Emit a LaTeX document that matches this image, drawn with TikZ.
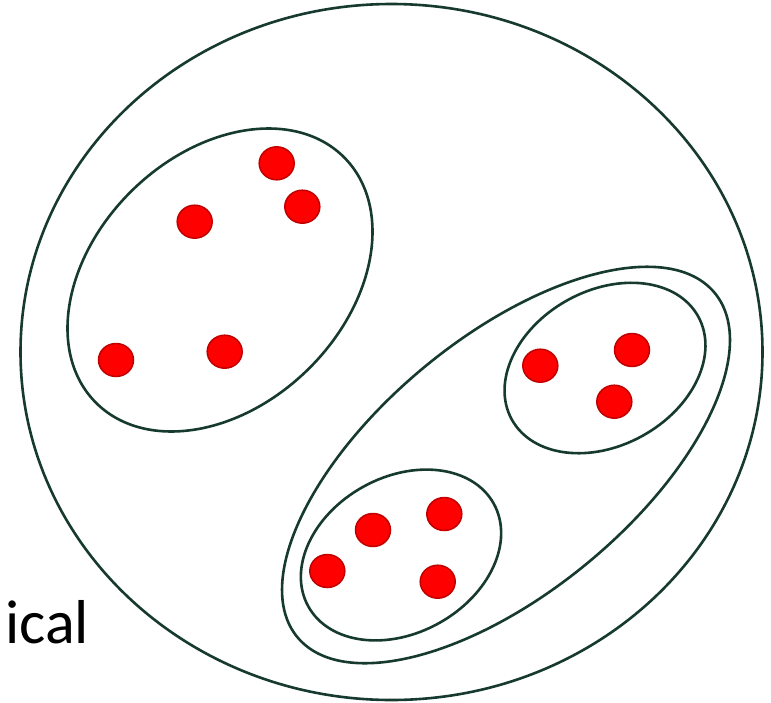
\documentclass[tikz,border=0pt]{standalone}
\usepackage{fontspec}
\setmainfont{Carlito}
\usetikzlibrary{shapes.geometric}
\definecolor{ringc}{HTML}{173A30}
\definecolor{dotred}{HTML}{FF0000}
\definecolor{dotedge}{HTML}{C00000}
\begin{document}
\begin{tikzpicture}[x=1pt,y=-1pt,
  ring/.style={draw=ringc, line width=2.6pt, ellipse, inner sep=0pt},
  dot/.style={ellipse, fill=dotred, draw=dotedge, line width=1.5pt,
    minimum width=35pt, minimum height=33pt, inner sep=0pt}]
\useasboundingbox (0,0) rectangle (771,702);
\fill[white] (0,0) rectangle (771,702);
% outer circle
\node[ring, minimum width=742pt, minimum height=696pt] (all) at (391.5,352) {};
% left cluster
\node[ring, minimum width=349pt, minimum height=251pt, rotate=44.4] (left) at (220,280) {};
% right cluster
\node[ring, minimum width=541pt, minimum height=255pt, rotate=39.5] (right) at (506,465) {};
\node[ring, minimum width=213pt, minimum height=155pt, rotate=29] (ur) at (605,368) {};
\node[ring, minimum width=212pt, minimum height=156pt, rotate=29] (ll) at (401,555) {};
% dots left
\node[dot] (a1) at (276.7,163.3) {};
\node[dot] (a2) at (302.3,206.7) {};
\node[dot] (a3) at (194.7,221.7) {};
\node[dot] (a4) at (116,360) {};
\node[dot] (a5) at (224.7,351.7) {};
% dots upper right
\node[dot] (b1) at (540.3,365.7) {};
\node[dot] (b2) at (632,350) {};
\node[dot] (b3) at (614.3,401.7) {};
% dots lower left
\node[dot] (c1) at (373,530) {};
\node[dot] (c2) at (444.3,514) {};
\node[dot] (c3) at (327.3,571) {};
\node[dot] (c4) at (437.7,581.7) {};
% label
\node[anchor=base west, inner sep=0pt, font=\fontsize{62}{62}\selectfont] (lbl) at (5,643) {ical};
\end{tikzpicture}
\end{document}
